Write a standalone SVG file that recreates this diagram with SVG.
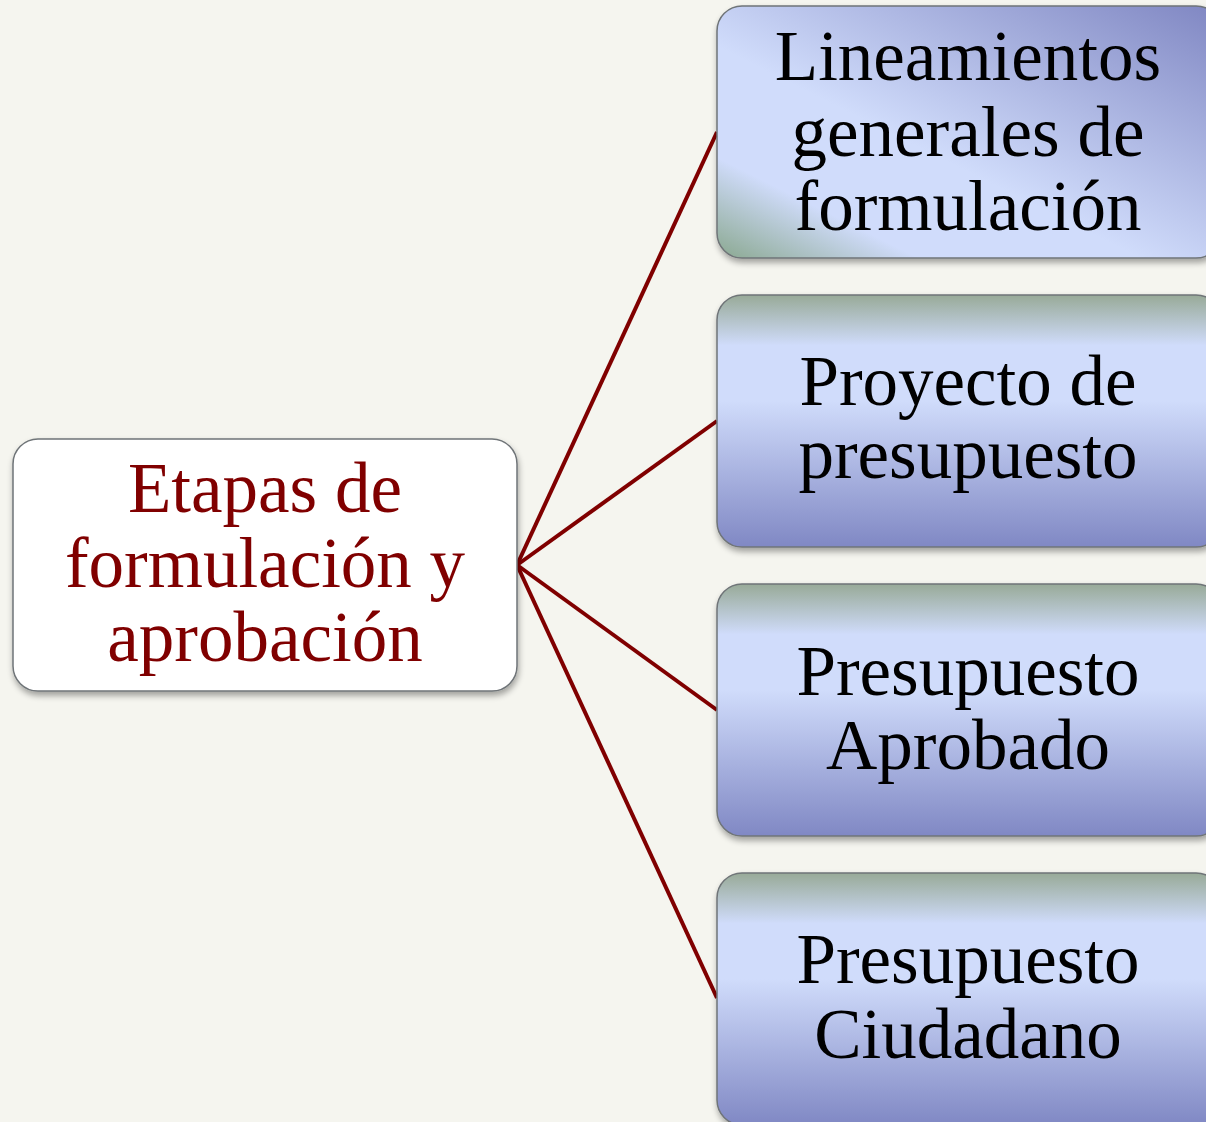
<svg xmlns="http://www.w3.org/2000/svg" width="1206" height="1122" viewBox="0 0 1206 1122">
<defs>
<linearGradient id="gv" x1="0" y1="0" x2="0" y2="1">
<stop offset="0" stop-color="#98aa98"/>
<stop offset="0.2" stop-color="#d0dcfb"/>
<stop offset="0.42" stop-color="#d0dcfb"/>
<stop offset="1" stop-color="#8088c4"/>
</linearGradient>
<linearGradient id="gd" x1="0" y1="1" x2="1" y2="0">
<stop offset="0" stop-color="#8aa890"/>
<stop offset="0.2" stop-color="#d0dcfb"/>
<stop offset="0.42" stop-color="#d0dcfb"/>
<stop offset="1" stop-color="#7f86c2"/>
</linearGradient>
<filter id="sh" x="-5%" y="-5%" width="110%" height="115%">
<feGaussianBlur in="SourceAlpha" stdDeviation="3"/>
<feOffset dx="1" dy="4" result="b"/>
<feComponentTransfer><feFuncA type="linear" slope="0.35"/></feComponentTransfer>
<feMerge><feMergeNode/><feMergeNode in="SourceGraphic"/></feMerge>
</filter>
</defs>
<style>
.box{stroke:#6f7478;stroke-width:1.5;filter:url(#sh)}
.t{font-family:"Liberation Serif","Times New Roman",serif;font-size:71px;text-anchor:middle;fill:#000}
.tc{fill:#800000}
.c{stroke:#800000;stroke-width:4;fill:none}
</style>
<rect width="1206" height="1122" fill="#f5f5ef"/>
<g id="connectors">
<line class="c" x1="517" y1="565" x2="717" y2="132"/>
<line class="c" x1="517" y1="565" x2="717" y2="421"/>
<line class="c" x1="517" y1="565" x2="717" y2="710"/>
<line class="c" x1="517" y1="565" x2="717" y2="998"/>
</g>
<g id="n0">
<rect class="box" x="13" y="439" width="504" height="252" rx="25" fill="#ffffff"/>
<text class="t tc" x="265" y="512">Etapas de</text>
<text class="t tc" x="265" y="587">formulación y</text>
<text class="t tc" x="265" y="661">aprobación</text>
</g>
<g id="n1">
<rect class="box" x="717" y="6" width="504" height="252" rx="25" fill="url(#gd)"/>
<text class="t" x="968" y="80">Lineamientos</text>
<text class="t" x="968" y="156">generales de</text>
<text class="t" x="968" y="230">formulación</text>
</g>
<g id="n2">
<rect class="box" x="717" y="295" width="504" height="252" rx="25" fill="url(#gv)"/>
<text class="t" x="968" y="405">Proyecto de</text>
<text class="t" x="968" y="478">presupuesto</text>
</g>
<g id="n3">
<rect class="box" x="717" y="584" width="504" height="252" rx="25" fill="url(#gv)"/>
<text class="t" x="968" y="695">Presupuesto</text>
<text class="t" x="968" y="769">Aprobado</text>
</g>
<g id="n4">
<rect class="box" x="717" y="873" width="504" height="252" rx="25" fill="url(#gv)"/>
<text class="t" x="968" y="983">Presupuesto</text>
<text class="t" x="968" y="1058">Ciudadano</text>
</g>
</svg>
